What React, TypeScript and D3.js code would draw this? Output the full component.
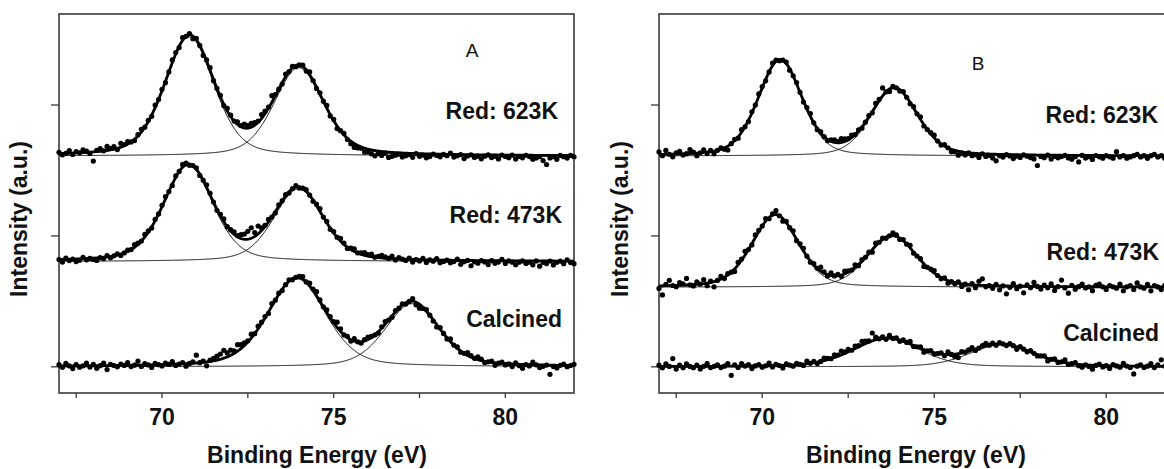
import React from 'react';
import * as d3 from 'd3';

// ---------- data ----------
const energyStart = 67.0; // eV, first channel
const energyStep = 0.1;   // eV per channel
const nChannels = 151;
const energies = d3.range(nChannels).map(i => +(energyStart + i * energyStep).toFixed(2));

const xDomain = [67, 82];
const xMajorTicks = [70, 75, 80];
const xMinorTicks = [67.5, 72.5, 77.5];
const yTicks = [0, 1, 2];

const panelNames = ['A', 'B'];
const spectrumLabels = ['Red: 623K', 'Red: 473K', 'Calcined'];

// vertical offsets (a.u.) of each spectrum baseline
const offsetsA = [1.61, 0.804, 0];
const offsetsB = [1.61, 0.608, 0];

// fitted doublet components: [centre eV, amplitude a.u., FWHM eV]
const peaksA623 = [[70.80, 0.91, 1.70], [73.98, 0.675, 1.70]];
const peaksA473 = [[70.77, 0.733, 1.70], [73.97, 0.555, 1.70]];
const peaksAcal = [[73.93, 0.672, 2.0], [77.28, 0.482, 1.85]];
const peaksB623 = [[70.52, 0.73, 1.5], [73.84, 0.513, 1.6]];
const peaksB473 = [[70.38, 0.548, 1.6], [73.78, 0.387, 1.7]];
const peaksBcal = [[73.62, 0.215, 2.3], [76.95, 0.168, 2.2]];
const lorentzFractionA = 0.35;
const lorentzFractionB = 0.3;

// measured points: deviation from the fit, in 0.01 a.u., one per channel
const residA623 = [1,-1,0,2,-1,1,0,2,1,-1, -7,1,2,0,3,1,2,-1,3,1, 2,0,-1,1,2,0,1,-1,2,0, 1,-1,0,2,1,-1,2,0,1,-2,
  1,0,-2,1,2,-1,0,1,-1,2, 1,0,2,1,3,2,3,2,1,3, 2,1,5,1,0,-1,2,0,1,-1, 0,1,-1,2,0,-1,1,0,2,-1,
  1,-2,0,1,-1,-2,-3,-2,-1,-3, -2,-3,-4,-2,-3,-1,-4,-3,-2,-1, -3,-2,-1,-3,0,-2,-1,-3,-2,0, -1,-2,0,-1,1,-2,-1,0,-3,-1,
  0,-2,-1,-3,-1,0,-2,-1,-3,0, -1,-2,0,-3,-1,-2,0,-1,-3,-2, -1,-4,-7,-2,-1,-3,0,-1,-2,0, -1];
const residA473 = [0,-2,1,-1,0,-2,-1,1,-1,0, -1,-2,0,-1,1,-1,0,1,-1,0, 1,0,2,1,0,2,1,-1,1,0, 1,2,0,-1,1,0,2,1,-1,0,
  1,-1,0,2,1,0,-1,1,2,0, 1,2,1,3,4,6,8,3,6,2, 1,2,0,-1,1,0,1,-1,0,1, -1,0,1,0,-1,1,2,0,1,-1,
  1,0,2,1,-1,1,2,0,1,2, 1,2,0,1,2,1,0,2,-1,1, 0,-1,1,-2,0,-1,1,-2,0,-1, 1,-2,-1,0,-2,-1,1,-3,-1,0,
  -4,-1,-2,0,-1,-3,0,-2,-1,1, -2,0,-1,-3,-1,0,-2,-1,-3,0, -4,-1,-2,0,-3,-1,0,-2,1,-1, -2];
const residAcal = [1,-1,2,0,-2,1,-1,0,2,-1, 1,-2,0,2,-3,1,0,-1,1,0, 2,-1,0,3,-1,1,0,-2,1,0, -1,1,0,2,-1,0,1,-2,0,1,
  6,0,1,-3,1,2,3,4,6,3, 4,2,5,3,2,1,3,0,2,1, 1,-1,2,0,1,-1,0,1,-1,0, 1,2,0,2,1,3,1,0,2,1,
  1,4,2,0,1,-1,2,0,-1,1, 2,1,0,-1,1,2,0,-1,1,0, 1,-1,0,2,-2,-3,-1,1,0,-1, -2,1,0,-1,2,0,1,-1,0,2,
  1,0,2,1,-1,0,1,-2,0,1, -1,0,-2,1,-1,-3,0,-1,2,0, -2,-1,0,-7,-1,-2,0,1,-1,0, 1];
const residB623 = [2,-1,3,0,-2,1,2,-1,0,3, 1,-2,0,2,-1,1,-2,0,1,-1, -3,0,1,-1,2,0,-1,1,0,2, 1,-1,0,2,1,-1,0,1,-1,0,
  1,0,-1,1,2,0,-1,1,0,-1, 1,2,1,3,2,1,2,0,1,-1, 0,1,-1,2,1,6,0,-2,1,0, -1,1,0,-1,1,0,2,-1,0,1,
  2,0,-1,1,0,-2,-1,-3,-1,-2, 0,-2,-1,-3,0,-2,-1,-3,-5,-1, -2,0,-1,-3,-1,-2,0,-1,-2,-3, -8,-1,-2,0,-3,-1,-2,-1,0,-2,
  -3,-1,-5,0,-2,-1,-3,0,-1,-2, 0,-1,-2,3,-1,0,-2,-1,0,1, -1,0,-2,0,1,-1,0,-2,0,-1, 0];
const residB473 = [-2,-7,1,4,0,-1,2,1,5,0, -1,2,0,3,-2,1,-4,0,2,-1, 1,0,-2,2,1,3,0,-1,2,1, 0,2,-1,1,3,0,-2,1,0,2,
  -1,1,2,0,-1,1,0,3,1,-1, 2,0,1,-1,2,1,0,2,-1,1, 0,1,-2,2,0,1,-1,0,2,1, -1,1,0,2,-1,0,1,-2,0,1,
  2,0,-1,1,-2,0,-1,1,-2,0, -4,1,-2,3,5,-1,0,-2,1,-3, 0,-6,-1,2,-2,0,-5,1,-1,3, 0,-2,1,-1,2,-3,0,5,-1,-5,
  1,-2,0,2,-1,0,-3,1,2,0, -2,1,0,-1,2,-3,0,1,-2,3, 0,-1,2,-3,1,0,-2,1,0,-1, 1];
const residBcal = [1,-1,2,0,6,-2,1,-1,2,0, -1,1,-2,0,2,-1,0,1,-1,0, 2,-7,1,-1,2,0,1,-2,0,1, -1,0,2,-1,1,0,-2,1,0,-1,
  1,0,-1,2,0,1,-1,0,2,1, 0,2,1,3,1,2,0,2,1,3, 2,1,6,2,0,1,-1,2,0,1, -1,1,0,2,-1,0,1,-2,0,1,
  -1,0,1,-1,2,0,-2,-3,1,0, 1,2,-1,0,1,2,0,1,-1,1, 0,-1,1,0,-2,1,0,-1,1,0, -1,0,1,-2,0,1,-1,0,2,-1,
  0,1,-1,-2,0,-1,-3,0,1,-1, 0,-2,1,0,-1,2,0,-1,-6,0, 1,-1,0,2,-1,1,5,0,-1,1, 0];

// ---------- layout ----------
const W = 1164;
const H = 469;
const plotTop = 14;
const plotBottom = 393;
const panelX = [[59, 574], [659, 1175]];
const titleCenterX = [317, 916];
const labelRight = [[558, 562, 562], [1158, 1159, 1159]];
const labelBaseline = [[119, 223, 327], [123, 260, 341]];
const letterPos = [[472, 57], [978, 70]];
const yTitleX = [27, 628];
const font = '"Liberation Sans", Arial, Helvetica, sans-serif';

function pseudoVoigt(x: number, c: number, a: number, w: number, eta: number) {
  const t = (x - c) / w;
  const g = Math.exp(-4 * Math.LN2 * t * t);
  const l = 1 / (1 + 4 * t * t);
  return a * ((1 - eta) * g + eta * l);
}

const panelsData = [
  { offsets: offsetsA, peaks: [peaksA623, peaksA473, peaksAcal], resid: [residA623, residA473, residAcal], eta: lorentzFractionA },
  { offsets: offsetsB, peaks: [peaksB623, peaksB473, peaksBcal], resid: [residB623, residB473, residBcal], eta: lorentzFractionB },
];

const fineGrid = d3.range(67, 82.0001, 0.02);

const yScale = d3.scaleLinear().domain([-0.2, 2.695]).range([plotBottom, plotTop]);

function Panel({ idx }: { idx: number }) {
  const [x0, x1] = panelX[idx];
  const xScale = d3.scaleLinear().domain(xDomain).range([x0, x1]);
  const pd = panelsData[idx];
  const line = d3.line<[number, number]>().x(d => xScale(d[0])).y(d => yScale(d[1]));
  const elems: React.ReactNode[] = [];
  pd.peaks.forEach((peaks, s) => {
    const off = pd.offsets[s];
    const total = (e: number) => peaks.reduce((acc, p) => acc + pseudoVoigt(e, p[0], p[1], p[2], pd.eta), 0);
    peaks.forEach((p, k) => {
      const pts = fineGrid.map(e => [e, off + pseudoVoigt(e, p[0], p[1], p[2], pd.eta)] as [number, number]);
      elems.push(<path key={`c${s}${k}`} d={line(pts) || ''} fill="none" stroke="#111" strokeWidth={1} />);
    });
    const tpts = fineGrid.map(e => [e, off + total(e)] as [number, number]);
    elems.push(<path key={`t${s}`} d={line(tpts) || ''} fill="none" stroke="#000" strokeWidth={2.8} />);
    energies.forEach((e, i) => {
      const v = off + total(e) + pd.resid[s][i] / 100;
      elems.push(<circle key={`d${s}-${i}`} cx={xScale(e)} cy={yScale(v)} r={2.6} fill="#000" />);
    });
  });

  return (
    <g>
      <rect x={x0} y={plotTop} width={x1 - x0} height={plotBottom - plotTop} fill="none" stroke="#3a3a3a" strokeWidth={1.6} />
      {yTicks.map(t => (
        <line key={`yt${t}`} x1={x0 - 8} x2={x0} y1={yScale(t)} y2={yScale(t)} stroke="#3a3a3a" strokeWidth={1.3} />
      ))}
      {[...xMajorTicks, ...xMinorTicks].map(t => (
        <line key={`xt${t}`} x1={xScale(t)} x2={xScale(t)} y1={plotBottom} y2={plotBottom + 5} stroke="#3a3a3a" strokeWidth={1.3} />
      ))}
      {xMajorTicks.map(t => (
        <text key={`xl${t}`} x={xScale(t)} y={425} textAnchor="middle" fontFamily={font} fontWeight="bold" fontSize={23} fill="#111">{t}</text>
      ))}
      {elems}
      <text x={letterPos[idx][0]} y={letterPos[idx][1]} textAnchor="middle" fontFamily={font} fontSize={19} fill="#111">{panelNames[idx]}</text>
      {spectrumLabels.map((lab, s) => (
        <text key={lab} x={labelRight[idx][s]} y={labelBaseline[idx][s]} textAnchor="end" fontFamily={font} fontWeight="bold" fontSize={23} fill="#111">{lab}</text>
      ))}
      <text x={titleCenterX[idx]} y={463} textAnchor="middle" fontFamily={font} fontWeight="bold" fontSize={23} fill="#111">Binding Energy (eV)</text>
      <text transform={`translate(${yTitleX[idx]},219) rotate(-90)`} textAnchor="middle" fontFamily={font} fontWeight="bold" fontSize={23} fill="#111">Intensity (a.u.)</text>
    </g>
  );
}

export default function App() {
  return (
    <svg width={W} height={H} viewBox={`0 0 ${W} ${H}`} style={{ position: 'absolute', left: 0, top: 0, background: '#fff' }}>
      <rect x={0} y={0} width={W} height={H} fill="#fff" />
      <Panel idx={0} />
      <Panel idx={1} />
    </svg>
  );
}
